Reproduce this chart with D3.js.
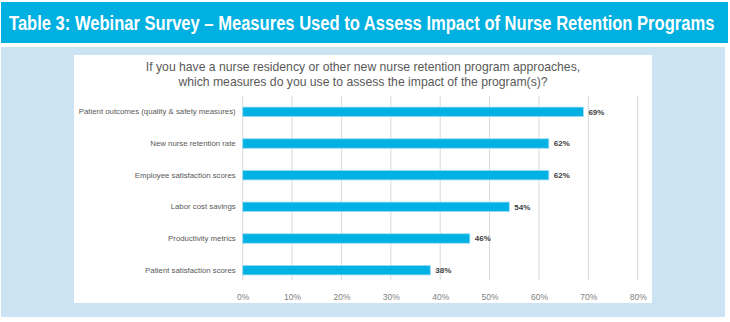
<!DOCTYPE html>
<html>
<head>
<meta charset="utf-8">
<script src="https://cdn.jsdelivr.net/npm/d3@7"></script>
<style>
  body { margin: 0; background: #fff; }
  svg { display: block; }
</style>
</head>
<body>
<div id="chart"></div>
<script>
// data
let measures = [
    "Patient outcomes (quality & safety measures)",
    "New nurse retention rate",
    "Employee satisfaction scores",
    "Labor cost savings",
    "Productivity metrics",
    "Patient satisfaction scores"
];
let shares = [69, 62, 62, 54, 46, 38];
let tickValues = [0, 10, 20, 30, 40, 50, 60, 70, 80];

let data = measures.map(function(m, i) { return {measure: m, share: shares[i]}; });

const width = 730, height = 322;

let svg = d3.select("#chart")
    .append("svg")
    .attr("width", width)
    .attr("height", height);

// header banner
svg.append("rect")
    .attr("x", 1).attr("y", 2)
    .attr("width", 727).attr("height", 41)
    .attr("fill", "#00B0E0");

let header = svg.append("text")
    .attr("x", 0)
    .attr("y", 0)
    .attr("fill", "#fff")
    .style("font-family", "'Liberation Sans Narrow', 'Arial Narrow', Arial, sans-serif")
    .style("font-weight", "bold")
    .style("font-size", "19.5px")
    .text("Table 3: Webinar Survey \u2013 Measures Used to Assess Impact of Nurse Retention Programs");

// squeeze the header horizontally (narrow-font look) to the reference width
let natural = header.node().getComputedTextLength();
header.attr("transform", `translate(9, 29.5) scale(${706 / natural}, 1)`);

// light blue panel + white plot card
svg.append("rect")
    .attr("x", 1).attr("y", 47)
    .attr("width", 724).attr("height", 270)
    .attr("fill", "#CCE3F3");

svg.append("rect")
    .attr("x", 74).attr("y", 55)
    .attr("width", 578).attr("height", 248)
    .attr("fill", "#fff");

// chart title
let title = svg.append("text")
    .attr("text-anchor", "middle")
    .attr("fill", "#595959")
    .style("font-family", "Arial, 'Liberation Sans', sans-serif")
    .style("font-size", "12.2px");
title.append("tspan").attr("x", 363).attr("y", 71)
    .text("If you have a nurse residency or other new nurse retention program approaches,");
title.append("tspan").attr("x", 363).attr("y", 86)
    .text("which measures do you use to assess the impact of the program(s)?");

const margin = {left: 242.7, top: 96, right: 730 - 637.7, bottom: 322 - 286};

let g = svg.append("g")
    .attr("transform", `translate(${margin.left}, ${margin.top})`);

let innerW = width - margin.left - margin.right;
let innerH = height - margin.top - margin.bottom;

let x = d3.scaleLinear()
    .domain([0, 80])
    .range([0, innerW]);

let y = d3.scaleBand()
    .domain(measures)
    .range([0, innerH])
    .paddingInner(0.7)
    .paddingOuter(0.35);

// vertical gridlines
g.selectAll("line.grid")
    .data(tickValues)
    .enter()
    .append("line")
    .attr("class", "grid")
    .attr("x1", function(d) { return x(d); })
    .attr("x2", function(d) { return x(d); })
    .attr("y1", 0)
    .attr("y2", innerH - 6)
    .attr("stroke", "#D9D9D9")
    .attr("stroke-width", 1);

// x axis tick labels
let xAxis = g.append("g")
    .attr("transform", `translate(0, ${innerH})`)
    .call(d3.axisBottom(x).tickValues(tickValues).tickSize(0).tickPadding(8)
        .tickFormat(function(d) { return d + "%"; }));
xAxis.select(".domain").remove();
xAxis.selectAll("text")
    .attr("fill", "#7F7F7F")
    .style("font-family", "Arial, 'Liberation Sans', sans-serif")
    .style("font-size", "8.5px");

// y axis category labels
let yAxis = g.append("g")
    .call(d3.axisLeft(y).tickSize(0).tickPadding(7));
yAxis.select(".domain").remove();
yAxis.selectAll("text")
    .attr("fill", "#595959")
    .style("font-family", "Arial, 'Liberation Sans', sans-serif")
    .style("font-size", "7.8px");

// bars
g.selectAll("rect.bar")
    .data(data)
    .enter()
    .append("rect")
    .attr("class", "bar")
    .attr("x", x(0))
    .attr("y", function(d) { return y(d.measure); })
    .attr("width", function(d) { return x(d.share); })
    .attr("height", y.bandwidth())
    .attr("fill", "#00B2E3")
    .attr("stroke", "#9FDCF4")
    .attr("stroke-width", 0.8);

// value labels
g.selectAll("text.val")
    .data(data)
    .enter()
    .append("text")
    .attr("class", "val")
    .attr("x", function(d) { return x(d.share) + 5; })
    .attr("y", function(d) { return y(d.measure) + y.bandwidth() / 2; })
    .attr("dy", "0.35em")
    .attr("fill", "#404040")
    .style("font-family", "Arial, 'Liberation Sans', sans-serif")
    .style("font-weight", "bold")
    .style("font-size", "8px")
    .text(function(d) { return d.share + "%"; });
</script>
</body>
</html>
